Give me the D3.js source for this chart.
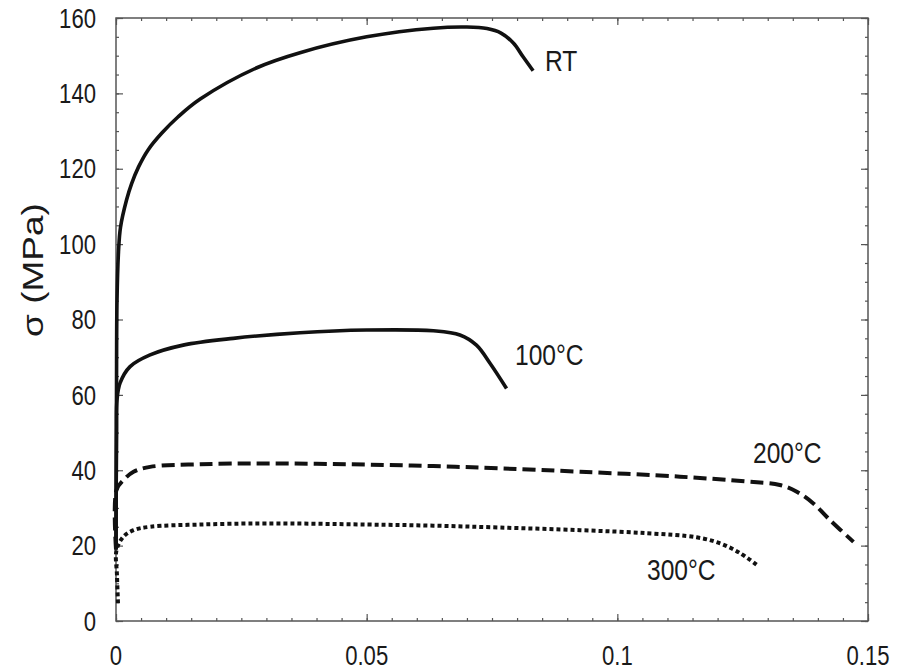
<!DOCTYPE html>
<html>
<head>
<meta charset="utf-8">
<script src="https://cdn.jsdelivr.net/npm/d3@7"></script>
<style>
  html, body { margin: 0; padding: 0; background: #fff; }
  svg { display: block; }
  text { font-family: "Liberation Sans", Arial, Helvetica, sans-serif; fill: #1a1a1a; }
</style>
</head>
<body>
<svg id="chart" width="897" height="670"></svg>
<script>
// ---- data (strain, stress in MPa) ----
const rtStrain  = [0, 0.0001, 0.0002, 0.0005, 0.0009, 0.0021, 0.0031, 0.0045, 0.0064, 0.0091, 0.0124, 0.0168, 0.0281, 0.0367, 0.050, 0.0633, 0.0700, 0.0740, 0.0768, 0.0793, 0.0812, 0.0832];
const rtStress  = [19, 60, 85, 98, 104.5, 111.7, 116, 120.5, 125, 129.4, 133.8, 138.5, 146.8, 150.8, 155.0, 157.3, 157.6, 157.2, 156.0, 153.3, 149.7, 146];

const t100Strain = [0, 0.0001, 0.0002, 0.0008, 0.0028, 0.0068, 0.0134, 0.0234, 0.0367, 0.050, 0.0633, 0.0686, 0.0719, 0.0746, 0.0779];
const t100Stress = [19, 50, 58.6, 63.1, 67.5, 70.6, 73.2, 75, 76.5, 77.2, 77, 75.9, 73.2, 68.4, 61.7];

const t200Strain = [0, 0.0001, 0.0015, 0.0035, 0.0068, 0.0168, 0.030, 0.050, 0.0633, 0.0766, 0.0926, 0.1125, 0.1258, 0.1324, 0.1358, 0.1391, 0.1424, 0.1471];
const t200Stress = [19, 34.8, 37.4, 39.6, 40.9, 41.6, 41.8, 41.5, 41.1, 40.5, 39.6, 38.3, 37, 36.1, 34.3, 31.2, 26.8, 21];

const t300Strain = [0.0004, 0.0002, 0.0001, 0.0015, 0.0035, 0.0068, 0.0168, 0.030, 0.050, 0.0633, 0.0766, 0.0926, 0.1059, 0.1158, 0.1205, 0.1245, 0.1278];
const t300Stress = [4.7, 12, 18.8, 22.4, 24.1, 25, 25.6, 25.9, 25.6, 25.3, 24.8, 24.1, 23.3, 22.2, 20.6, 18, 14.9];

const curveLabels = ["RT", "100°C", "200°C", "300°C"];
const xTickValues = [0, 0.05, 0.1, 0.15];
const xTickLabels = ["0", "0.05", "0.1", "0.15"];
const yTickValues = [0, 20, 40, 60, 80, 100, 120, 140, 160];
const yTickLabels = ["0", "20", "40", "60", "80", "100", "120", "140", "160"];
const yTitle = "σ (MPa)";

// ---- layout ----
const svg = d3.select("#chart");
const L = 116, R = 868, T = 18, B = 621;
const SQ = 0.82; // horizontal squash of glyphs
const x = d3.scaleLinear().domain([0, 0.15]).range([L, R]);
const y = d3.scaleLinear().domain([0, 160]).range([B, T]);

const xMinor = d3.range(0, 0.15001, 0.005);
const yMinor = d3.range(0, 160.001, 5);
const axisColor = "#555";

function styleAxis(g) {
  g.select(".domain").remove();
  g.selectAll("line").attr("stroke", axisColor).attr("stroke-width", 1.2);
}

// minor + major ticks, inward on all four sides
svg.append("g").attr("transform", `translate(0,${B})`)
  .call(d3.axisBottom(x).tickValues(xMinor).tickSize(-3).tickFormat("")).call(styleAxis);
svg.append("g").attr("transform", `translate(0,${B})`)
  .call(d3.axisBottom(x).tickValues(xTickValues).tickSize(-7).tickFormat("")).call(styleAxis);
svg.append("g").attr("transform", `translate(0,${T})`)
  .call(d3.axisTop(x).tickValues(xMinor).tickSize(-3).tickFormat("")).call(styleAxis);
svg.append("g").attr("transform", `translate(0,${T})`)
  .call(d3.axisTop(x).tickValues(xTickValues).tickSize(-7).tickFormat("")).call(styleAxis);
svg.append("g").attr("transform", `translate(${L},0)`)
  .call(d3.axisLeft(y).tickValues(yMinor).tickSize(-3).tickFormat("")).call(styleAxis);
svg.append("g").attr("transform", `translate(${L},0)`)
  .call(d3.axisLeft(y).tickValues(yTickValues).tickSize(-7).tickFormat("")).call(styleAxis);
svg.append("g").attr("transform", `translate(${R},0)`)
  .call(d3.axisRight(y).tickValues(yMinor).tickSize(-3).tickFormat("")).call(styleAxis);
svg.append("g").attr("transform", `translate(${R},0)`)
  .call(d3.axisRight(y).tickValues(yTickValues).tickSize(-7).tickFormat("")).call(styleAxis);

// frame
svg.append("rect")
  .attr("x", L).attr("y", T).attr("width", R - L).attr("height", B - T)
  .attr("fill", "none").attr("stroke", axisColor).attr("stroke-width", 1.5);

// tick labels
svg.append("g").selectAll("text").data(xTickValues).join("text")
  .attr("transform", (d) => `translate(${x(d)},665) scale(${SQ},1)`)
  .attr("text-anchor", "middle")
  .attr("font-size", 27)
  .text((d, i) => xTickLabels[i]);

svg.append("g").selectAll("text").data(yTickValues).join("text")
  .attr("transform", (d) => `translate(96,${y(d)}) scale(${SQ},1)`)
  .attr("text-anchor", "end")
  .attr("dy", "0.36em")
  .attr("font-size", 27)
  .text((d, i) => yTickLabels[i]);

// y-axis title
svg.append("text")
  .attr("transform", `translate(43,270) scale(${SQ},1) rotate(-90)`)
  .attr("text-anchor", "middle")
  .attr("font-size", 37)
  .text(yTitle);

// curves
const line = d3.line()
  .x((d) => x(d[0]))
  .y((d) => y(d[1]))
  .curve(d3.curveCatmullRom.alpha(0.5));

const series = [
  { pts: d3.zip(rtStrain, rtStress), dash: null, w: 3.6 },
  { pts: d3.zip(t100Strain, t100Stress), dash: null, w: 3.6 },
  { pts: d3.zip(t200Strain, t200Stress), dash: "13,6", w: 4 },
  { pts: d3.zip(t300Strain, t300Stress), dash: "4,3", w: 4 }
];

svg.append("g").selectAll("path").data(series).join("path")
  .attr("d", (s) => line(s.pts))
  .attr("fill", "none")
  .attr("stroke", "#111")
  .attr("stroke-width", (s) => s.w)
  .attr("stroke-dasharray", (s) => s.dash)
  .attr("stroke-linejoin", "round");

// curve labels
const labelPos = [[545, 71], [515, 365], [753, 463], [647, 580]];
svg.append("g").selectAll("text").data(curveLabels).join("text")
  .attr("transform", (d, i) => `translate(${labelPos[i][0]},${labelPos[i][1]}) scale(${SQ},1)`)
  .attr("font-size", 30)
  .text((d) => d);
</script>
</body>
</html>
